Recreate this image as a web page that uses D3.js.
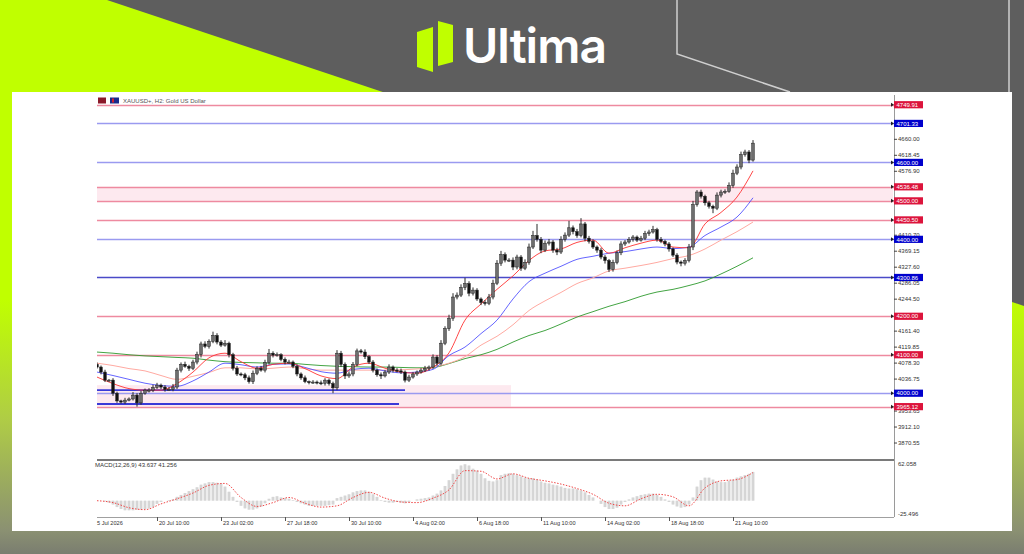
<!DOCTYPE html>
<html>
<head>
<meta charset="utf-8">
<script src="https://cdn.jsdelivr.net/npm/d3@7"></script>
<style>
  html, body { margin: 0; padding: 0; overflow: hidden; background: #5e5e5e; }
  text { font-family: "Liberation Sans", Arial, sans-serif; }
</style>
</head>
<body>
<svg id="chart"></svg>
<script>
// ---- chart data ----
// H2 closes, one entry per 2 bars (4 px)
const closes = [
  4068,4055,4034,4034,4000,3980,3977,3982,3985,3995,
  3975,4000,4008,4008,4015,4021,4016,4010,4010,4016,
  4060,4075,4070,4065,4081,4100,4128,4122,4135,4150,
  4133,4125,4130,4100,4065,4050,4048,4040,4030,4052,
  4065,4060,4080,4104,4099,4100,4088,4081,4081,4070,
  4050,4040,4030,4029,4029,4027,4026,4034,4025,4014,
  4104,4075,4045,4050,4075,4110,4107,4095,4081,4060,
  4048,4045,4055,4068,4060,4058,4055,4034,4042,4050,
  4055,4060,4065,4068,4094,4078,4130,4168,4195,4250,
  4255,4275,4285,4260,4268,4245,4236,4234,4250,4286,
  4338,4360,4346,4346,4328,4354,4325,4340,4380,4410,
  4400,4372,4390,4393,4372,4367,4400,4411,4430,4420,
  4410,4440,4403,4395,4380,4372,4354,4345,4322,4340,
  4365,4388,4393,4400,4406,4398,4403,4415,4419,4425,
  4400,4395,4388,4375,4359,4341,4338,4345,4380,4490,
  4523,4512,4495,4486,4481,4515,4523,4525,4540,4572,
  4588,4620,4627,4606,4650
];
const firstOpen = 4075;
// wick lengths above / below the body (price units)
const wickUp = [
  5,4,6,3,5,4,3,6,4,8, 5,6,4,5,7,6,4,5,6,8, 6,5,7,4,6,8,6,7,5,10,
  6,5,8,4,5,6,4,5,6,7, 5,6,7,11,5,6,4,5,6,4, 5,4,6,3,5,4,6,5,4,5,
  8,6,5,7,6,6,5,7,4,5, 4,6,5,7,4,5,6,4,6,5, 4,5,6,4,7,5,8,6,9,10,
  7,8,15,6,7,5,4,6,8,9, 8,10,6,5,7,6,5,8,9,12, 30,6,7,8,5,6,8,7,18,6,
  7,15,5,6,5,4,6,5,4,7, 6,7,5,6,5,4,6,7,6,10, 5,6,4,5,4,5,4,6,8,10,
  5,6,4,5,4,7,6,5,8,9, 7,8,6,5,8
];
const wickDn = [
  4,6,5,4,7,5,4,5,3,4, 10,5,4,6,5,4,5,6,4,5, 5,6,4,7,5,6,7,5,6,5,
  6,5,4,7,6,5,4,6,5,6, 5,4,6,5,6,4,5,6,4,5, 6,5,4,6,5,4,5,6,5,14,
  6,7,8,5,6,5,4,6,5,6, 5,8,4,5,6,4,5,6,5,4, 5,4,5,6,5,7,6,5,6,7,
  6,5,7,8,6,5,7,6,5,6, 5,7,6,5,8,6,7,5,6,5, 6,8,5,6,7,8,5,6,5,7,
  6,5,8,6,5,7,6,8,7,6, 5,6,5,4,6,5,4,5,6,4, 6,5,6,7,5,6,8,6,5,8,
  5,6,7,6,13,5,6,5,4,6, 5,6,5,8,4
];

// moving averages, one point every 8 bars (16 px)
const maFast = [4042,4025,4012,4008,4008,4025,4055,4092,4104,4082,4065,4075,4078,4064,4045,4038,4068,4078,4065,4055,4052,
  4068,4105,4190,4232,4270,4305,4345,4370,4375,4392,4398,4364,4378,4390,4398,4380,4378,4440,4470,4510,4578];
const maMid = [4055,4046,4036,4026,4020,4018,4032,4055,4078,4074,4068,4075,4076,4067,4056,4052,4062,4065,4058,4053,4055,
  4062,4098,4120,4155,4190,4245,4290,4312,4330,4348,4356,4364,4368,4375,4380,4376,4380,4410,4432,4458,4508];
const maSlow = [4078,4072,4064,4058,4046,4036,4044,4054,4066,4066,4063,4065,4068,4064,4060,4060,4060,4060,4060,4061,4063,
  4068,4078,4095,4125,4148,4178,4215,4240,4262,4285,4300,4318,4325,4332,4340,4350,4358,4375,4398,4420,4445];
const maLong = [4107,4104,4100,4097,4095,4093,4091,4086,4082,4080,4079,4078,4078,4075,4072,4070,4069,4068,4068,4067,4066,
  4067,4077,4090,4100,4114,4133,4150,4163,4180,4198,4212,4226,4238,4252,4263,4270,4280,4292,4310,4330,4352];

// MACD histogram (per candle) and signal (every 8 bars)
const macdHist = [
  0,0,-1,-3,-6,-10,-13,-15,-15,-15, -14,-14,-13,-12,-10,-5,-2,0,1,2,
  6,9,12,15,18,21,25,27,29,29, 28,27,22,14,6,-2,-8,-12,-14,-14,
  -12,-9,-4,3,6,7,5,4,3,1, -2,-4,-6,-8,-8,-8,-8,-8,-7,-6,
  4,6,8,10,13,15,16,16,14,10, 6,1,-2,-3,-3,-2,-3,-4,-2,0,
  2,3,4,5,8,11,16,23,32,42, 49,55,57,55,50,47,42,35,31,30,
  32,40,42,43,42,40,38,36,35,35, 33,30,28,27,25,24,22,20,19,19,
  18,16,13,9,5,0,-5,-10,-13,-13, -11,-6,-2,2,5,7,9,10,11,11,
  9,6,2,-2,-6,-9,-11,-10,-6,5, 22,32,36,36,33,30,29,29,31,33,
  36,38,40,42,45
];
const macdSignal = [0,-3,-11,-14,-5,3,12,24,27,5,-9,-3,5,-4,-10,-8,5,13,4,-2,-3,
  4,17,47,46,34,42,35,31,26,19,10,-4,-8,3,10,6,-8,20,31,33,44];

// price levels drawn on the chart
const levelValues = [4749.91, 4701.33, 4600.00, 4536.48, 4500.00, 4450.50, 4400.00, 4300.86, 4200.00, 4100.00, 4000.00, 3965.12];
const levelKinds  = ['res', 'sup', 'sup', 'res', 'res', 'res', 'sup', 'key', 'res', 'res', 'sup', 'res'];
// pink zones [top, bottom, from bar, to bar]
const zoneTop = [4536.48, 4021];
const zoneBottom = [4500.00, 3965.12];
const zoneFrom = [0, 0];
const zoneTo = [398, 207];
// short blue segments near the lows
const segValues = [4008, 3972];
const segTo = [154, 151];

const priceTicks = [4743.10, 4701.55, 4660.00, 4618.45, 4576.90, 4535.35, 4493.80, 4452.25, 4410.70, 4369.15, 4327.60,
  4286.05, 4244.50, 4202.95, 4161.40, 4119.85, 4078.30, 4036.75, 3995.20, 3953.65, 3912.10, 3870.55];
const timeLabels = ['5 Jul 2026', '20 Jul 10:00', '23 Jul 02:00', '27 Jul 18:00', '30 Jul 10:00', '4 Aug 02:00',
  '6 Aug 18:00', '11 Aug 10:00', '14 Aug 02:00', '18 Aug 18:00', '21 Aug 10:00'];
const timeBars = [0, 30, 62, 94, 126, 158, 190, 222, 254, 286, 318];
const macdMax = 62.058;
const macdMin = -25.496;

// ---- drawing ----
const W = 1024, H = 554;
const svg = d3.select('#chart').attr('width', W).attr('height', H);
const defs = svg.append('defs');

// background: gray with lime wedge fading to olive at the bottom
const fade = defs.append('linearGradient').attr('id', 'limeFade')
  .attr('gradientUnits', 'userSpaceOnUse').attr('x1', 0).attr('y1', 0).attr('x2', 0).attr('y2', H);
[[0, '#c0ff00'], [300 / H, '#c0ff00'], [420 / H, '#afcc46'], [530 / H, '#8b9172'], [1, '#7a7d70']]
  .forEach(([o, c]) => fade.append('stop').attr('offset', o).attr('stop-color', c));

svg.append('rect').attr('width', W).attr('height', H).attr('fill', '#5e5e5e');
svg.append('path').attr('d', 'M0,0 L107,0 L1024,306 L1024,554 L0,554 Z').attr('fill', 'url(#limeFade)');
svg.append('path').attr('d', 'M677,0 V54 L790,92 M1009,0 V92')
  .attr('fill', 'none').attr('stroke', '#cfcfcf').attr('stroke-width', 1.5);

// logo
const logo = svg.append('g');
logo.append('path').attr('d', 'M417,32 L433,27 L433,72 L417,67 Z').attr('fill', '#c0ff00');
logo.append('path').attr('d', 'M438,21 L453,25 L453,62 L438,66 Z').attr('fill', '#c0ff00');
logo.append('text').attr('x', 463).attr('y', 63).text('Ultima')
  .attr('fill', '#ffffff').attr('font-size', 48).attr('font-weight', 600)
  .style('font-family', 'Inter, "Open Sans", sans-serif').attr('textLength', 144);

// white panel
svg.append('rect').attr('x', 12).attr('y', 92).attr('width', 1000).attr('height', 439).attr('fill', '#ffffff');

// scales
const left = 97, axisX = 894;
const x = d3.scaleLinear().domain([0, 398]).range([left, 893]);
const y = d3.scaleLinear().domain([3831.6, 4775.2]).range([458, 95]);
const ym = d3.scaleLinear().domain([macdMin, macdMax]).range([517, 461]);

defs.append('clipPath').attr('id', 'mainClip').append('rect')
  .attr('x', left).attr('y', 95).attr('width', axisX - left).attr('height', 363);
const main = svg.append('g').attr('clip-path', 'url(#mainClip)');

// zones
main.selectAll('.zone').data(zoneTop).enter().append('rect')
  .attr('x', (d, i) => x(zoneFrom[i]))
  .attr('width', (d, i) => x(zoneTo[i]) - x(zoneFrom[i]))
  .attr('y', d => y(d))
  .attr('height', (d, i) => y(zoneBottom[i]) - y(d))
  .attr('fill', '#fde9ef');

// level lines
const lineColor = { res: '#ee8aa0', sup: '#9a9af0', key: '#4a4ac8' };
main.selectAll('.lvl').data(levelValues).enter().append('line')
  .attr('x1', left).attr('x2', axisX)
  .attr('y1', d => Math.round(y(d)) + 0.5).attr('y2', d => Math.round(y(d)) + 0.5)
  .attr('stroke', (d, i) => lineColor[levelKinds[i]])
  .attr('stroke-width', 1.3);

main.selectAll('.seg').data(segValues).enter().append('line')
  .attr('x1', left).attr('x2', (d, i) => x(segTo[i]))
  .attr('y1', d => y(d)).attr('y2', d => y(d))
  .attr('stroke', '#3a3ad8').attr('stroke-width', 1.8);

// moving averages
const maLine = d3.line().x((d, i) => x(i * 8)).y(d => y(d)).curve(d3.curveMonotoneX);
[[maLong, '#2f9a2f', 0.9], [maSlow, '#ffaaa2', 1], [maMid, '#4a4aff', 0.85], [maFast, '#ff3434', 0.9]]
  .forEach(([data, color, op]) => {
    main.append('path').datum(data).attr('d', maLine)
      .attr('fill', 'none').attr('stroke', color).attr('stroke-width', 1).attr('opacity', op);
  });

// candles
const candles = closes.map((c, k) => {
  const o = k === 0 ? firstOpen : closes[k - 1];
  return { k, o, c, h: Math.max(o, c) + wickUp[k], l: Math.min(o, c) - wickDn[k] };
});
const cg = main.append('g');
cg.selectAll('line').data(candles).enter().append('line')
  .attr('x1', d => x(d.k * 2)).attr('x2', d => x(d.k * 2))
  .attr('y1', d => y(d.h)).attr('y2', d => y(d.l))
  .attr('stroke', '#2a2a2a').attr('stroke-width', 1);
cg.selectAll('rect').data(candles).enter().append('rect')
  .attr('x', d => x(d.k * 2) - 1.3).attr('width', 2.6)
  .attr('y', d => y(Math.max(d.o, d.c)))
  .attr('height', d => Math.max(1, Math.abs(y(d.o) - y(d.c))))
  .attr('fill', d => d.c >= d.o ? '#6e6e6e' : '#111111')
  .attr('stroke', '#1e1e1e').attr('stroke-width', 0.5);

// title
svg.append('rect').attr('x', 98).attr('y', 97.5).attr('width', 8).attr('height', 6).attr('fill', '#8b1a2a');
svg.append('rect').attr('x', 110).attr('y', 97.5).attr('width', 9).attr('height', 6).attr('fill', '#1a2a8b');
svg.append('rect').attr('x', 112).attr('y', 98.5).attr('width', 2).attr('height', 4).attr('fill', '#d02030');
svg.append('text').attr('x', 123).attr('y', 103).text('XAUUSD+, H2:  Gold US Dollar')
  .attr('font-size', 6).attr('fill', '#555');

// price axis (ticks hidden under a level label are left out)
svg.append('line').attr('x1', axisX + 0.5).attr('x2', axisX + 0.5).attr('y1', 95).attr('y2', 517)
  .attr('stroke', '#9a9a9a').attr('stroke-width', 1);
const shownTicks = priceTicks.filter(t => levelValues.every(v => Math.abs(y(t) - y(v)) >= 3));
const ticks = svg.append('g');
ticks.selectAll('line').data(shownTicks).enter().append('line')
  .attr('x1', axisX).attr('x2', axisX + 3).attr('y1', d => y(d)).attr('y2', d => y(d))
  .attr('stroke', '#444');
ticks.selectAll('text').data(shownTicks).enter().append('text')
  .attr('x', axisX + 4).attr('y', d => y(d) + 2.1)
  .text(d => d.toFixed(2)).attr('font-size', 6).attr('fill', '#333');

// level labels on the axis
const boxColor = { res: '#dc143c', sup: '#0000cd', key: '#0000cd' };
const boxes = svg.append('g').selectAll('g').data(levelValues).enter().append('g')
  .attr('transform', d => `translate(${axisX},${y(d)})`);
boxes.append('path').attr('d', 'M-3,-2 L0,0 L-3,2 Z').attr('fill', '#222');
boxes.append('rect').attr('x', 0).attr('y', -3.6).attr('width', 29).attr('height', 7.2)
  .attr('fill', (d, i) => boxColor[levelKinds[i]]);
boxes.append('text').attr('x', 2.5).attr('y', 2.2).text(d => d.toFixed(2))
  .attr('font-size', 6).attr('fill', '#ffffff');

// MACD window
svg.append('line').attr('x1', left).attr('x2', axisX).attr('y1', 460).attr('y2', 460)
  .attr('stroke', '#7a7a7a').attr('stroke-width', 2);
svg.append('line').attr('x1', left).attr('x2', axisX).attr('y1', 517.5).attr('y2', 517.5)
  .attr('stroke', '#a0a0a0').attr('stroke-width', 1);
svg.append('g').selectAll('rect').data(macdHist).enter().append('rect')
  .attr('x', (d, i) => x(i * 2) - 1.6).attr('width', 3.2)
  .attr('y', d => Math.min(ym(d), ym(0)))
  .attr('height', d => Math.abs(ym(d) - ym(0)))
  .attr('fill', '#e2e2e2');
svg.append('g').selectAll('line').data(macdHist).enter().append('line')
  .attr('x1', (d, i) => x(i * 2)).attr('x2', (d, i) => x(i * 2))
  .attr('y1', d => ym(d)).attr('y2', ym(0))
  .attr('stroke', '#c4c4c4').attr('stroke-width', 0.8);
svg.append('path').datum(macdSignal)
  .attr('d', d3.line().x((d, i) => x(i * 8)).y(d => ym(d)).curve(d3.curveMonotoneX))
  .attr('fill', 'none').attr('stroke', '#f04848').attr('stroke-width', 1)
  .attr('stroke-dasharray', '1.5,1.5');
svg.append('text').attr('x', 95).attr('y', 467).text('MACD(12,26,9) 43.637 41.256')
  .attr('font-size', 6).attr('fill', '#333');
svg.append('text').attr('x', axisX + 4).attr('y', 465.5).text(macdMax.toFixed(3)).attr('font-size', 6).attr('fill', '#333');
svg.append('text').attr('x', axisX + 4).attr('y', 516).text(macdMin.toFixed(3)).attr('font-size', 6).attr('fill', '#333');

// time axis
const tg = svg.append('g');
tg.selectAll('line').data(timeBars.slice(1)).enter().append('line')
  .attr('x1', d => x(d) + 0.5).attr('x2', d => x(d) + 0.5).attr('y1', 517).attr('y2', 521)
  .attr('stroke', '#555');
tg.selectAll('text').data(timeLabels).enter().append('text')
  .attr('x', (d, i) => i === 0 ? left : x(timeBars[i]) + 2)
  .attr('y', 525).text(d => d)
  .attr('font-size', 5.6).attr('fill', '#333');
</script>
</body>
</html>
